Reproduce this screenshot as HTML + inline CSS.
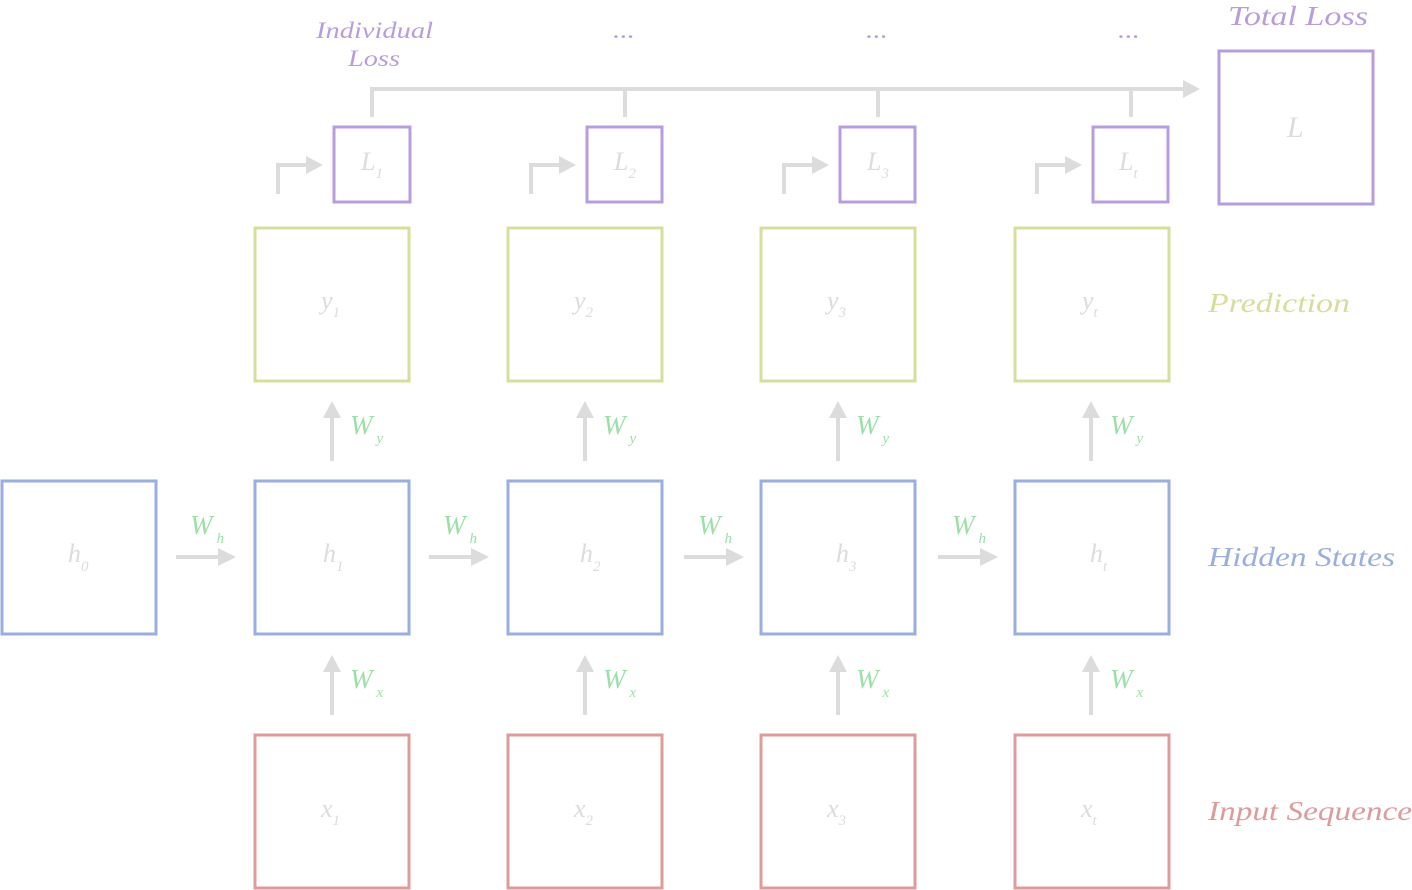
<!DOCTYPE html>
<html><head><meta charset="utf-8"><style>
html,body{margin:0;padding:0;background:#fff;}
svg{display:block}
text{font-family:"Liberation Serif",serif;font-style:italic;}
.g{fill:#dcdcdc;font-size:26px}
.w{fill:#9ddfa8;font-size:27px}
.s{font-size:15px}
</style></head><body>
<svg width="1412" height="890" viewBox="0 0 1412 890" xmlns="http://www.w3.org/2000/svg">
<g fill="none" stroke-width="3">
<g stroke="#dd9b9b">
<rect x="255" y="735" width="154" height="153"/><rect x="508" y="735" width="154" height="153"/><rect x="761" y="735" width="154" height="153"/><rect x="1015" y="735" width="154" height="153"/>
</g>
<g stroke="#9aafdf">
<rect x="2" y="481" width="154" height="153"/><rect x="255" y="481" width="154" height="153"/><rect x="508" y="481" width="154" height="153"/><rect x="761" y="481" width="154" height="153"/><rect x="1015" y="481" width="154" height="153"/>
</g>
<g stroke="#d4df9b">
<rect x="255" y="228" width="154" height="153"/><rect x="508" y="228" width="154" height="153"/><rect x="761" y="228" width="154" height="153"/><rect x="1015" y="228" width="154" height="153"/>
</g>
<g stroke="#b89ddd">
<rect x="334" y="127" width="76" height="75"/><rect x="587" y="127" width="75" height="75"/><rect x="840" y="127" width="75" height="75"/><rect x="1093" y="127" width="75" height="75"/>
<rect x="1219" y="51" width="154" height="153"/>
</g>
</g>
<g stroke="#dcdcdc" stroke-width="4" fill="none">
<path d="M332 715V672"/><path d="M585 715V672"/><path d="M838 715V672"/><path d="M1091 715V672"/>
<path d="M332 461V418"/><path d="M585 461V418"/><path d="M838 461V418"/><path d="M1091 461V418"/>
<path d="M176 557H220"/><path d="M429 557H473"/><path d="M684 557H728"/><path d="M938 557H982"/>
<path d="M278 194V165H308"/><path d="M531 194V165H561"/><path d="M784 194V165H814"/><path d="M1037 194V165H1067"/>
<path d="M372 117V89H1185"/><path d="M625 89V117"/><path d="M878 89V117"/><path d="M1131 89V117"/>
</g>
<g fill="#dcdcdc">
<path d="M323 672L332 655L341 672z"/><path d="M576 672L585 655L594 672z"/><path d="M829 672L838 655L847 672z"/><path d="M1082 672L1091 655L1100 672z"/>
<path d="M323 418L332 401L341 418z"/><path d="M576 418L585 401L594 418z"/><path d="M829 418L838 401L847 418z"/><path d="M1082 418L1091 401L1100 418z"/>
<path d="M218 548L236 557L218 566z"/><path d="M471 548L489 557L471 566z"/><path d="M726 548L744 557L726 566z"/><path d="M980 548L998 557L980 566z"/>
<path d="M306 156L323 165L306 174z"/><path d="M559 156L576 165L559 174z"/><path d="M812 156L829 165L812 174z"/><path d="M1065 156L1082 165L1065 174z"/>
<path d="M1183 80L1200 89L1183 98z"/>
</g>
<g class="g">
<text x="321" y="817">x<tspan class="s" dy="8">1</tspan></text>
<text x="574" y="817">x<tspan class="s" dy="8">2</tspan></text>
<text x="827" y="817">x<tspan class="s" dy="8">3</tspan></text>
<text x="1081" y="817">x<tspan class="s" dy="8">t</tspan></text>
<text x="68" y="562">h<tspan class="s" dy="9">0</tspan></text>
<text x="323" y="562">h<tspan class="s" dy="9">1</tspan></text>
<text x="580" y="562">h<tspan class="s" dy="9">2</tspan></text>
<text x="836" y="562">h<tspan class="s" dy="9">3</tspan></text>
<text x="1090" y="562">h<tspan class="s" dy="9">t</tspan></text>
<text x="321" y="309">y<tspan class="s" dy="8">1</tspan></text>
<text x="574" y="309">y<tspan class="s" dy="8">2</tspan></text>
<text x="827" y="309">y<tspan class="s" dy="8">3</tspan></text>
<text x="1082" y="309">y<tspan class="s" dy="8">t</tspan></text>
<text x="361" y="170">L<tspan class="s" dy="8">1</tspan></text>
<text x="614" y="170">L<tspan class="s" dy="8">2</tspan></text>
<text x="867" y="170">L<tspan class="s" dy="8">3</tspan></text>
<text x="1119" y="170">L<tspan class="s" dy="8">t</tspan></text>
<text x="1287" y="137" style="font-size:30px">L</text>
</g>
<g class="w">
<text x="350" y="688">W<tspan class="s" dy="9" dx="4">x</tspan></text>
<text x="603" y="688">W<tspan class="s" dy="9" dx="4">x</tspan></text>
<text x="856" y="688">W<tspan class="s" dy="9" dx="4">x</tspan></text>
<text x="1110" y="688">W<tspan class="s" dy="9" dx="4">x</tspan></text>
<text x="350" y="434">W<tspan class="s" dy="9" dx="4">y</tspan></text>
<text x="603" y="434">W<tspan class="s" dy="9" dx="4">y</tspan></text>
<text x="856" y="434">W<tspan class="s" dy="9" dx="4">y</tspan></text>
<text x="1110" y="434">W<tspan class="s" dy="9" dx="4">y</tspan></text>
<text x="190" y="534">W<tspan class="s" dy="9" dx="4">h</tspan></text>
<text x="443" y="534">W<tspan class="s" dy="9" dx="4">h</tspan></text>
<text x="698" y="534">W<tspan class="s" dy="9" dx="4">h</tspan></text>
<text x="952" y="534">W<tspan class="s" dy="9" dx="4">h</tspan></text>
</g>
<g style="font-size:27px">
<text x="1208" y="820" fill="#dd9b9b" textLength="204" lengthAdjust="spacingAndGlyphs">Input Sequence</text>
<text x="1208" y="566" fill="#9aafdf" textLength="187" lengthAdjust="spacingAndGlyphs">Hidden States</text>
<text x="1208" y="312" fill="#d4df9b" textLength="142" lengthAdjust="spacingAndGlyphs">Prediction</text>
<text x="1228" y="25" fill="#b89ddd" textLength="140" lengthAdjust="spacingAndGlyphs">Total Loss</text>
</g>
<g fill="#b89ddd" style="font-size:23px">
<text x="316" y="38" textLength="117" lengthAdjust="spacingAndGlyphs">Individual</text>
<text x="348" y="66" textLength="52" lengthAdjust="spacingAndGlyphs">Loss</text>
<text x="613" y="38" textLength="22" lengthAdjust="spacingAndGlyphs">...</text>
<text x="866" y="38" textLength="22" lengthAdjust="spacingAndGlyphs">...</text>
<text x="1118" y="38" textLength="22" lengthAdjust="spacingAndGlyphs">...</text>
</g>
</svg>
</body></html>
